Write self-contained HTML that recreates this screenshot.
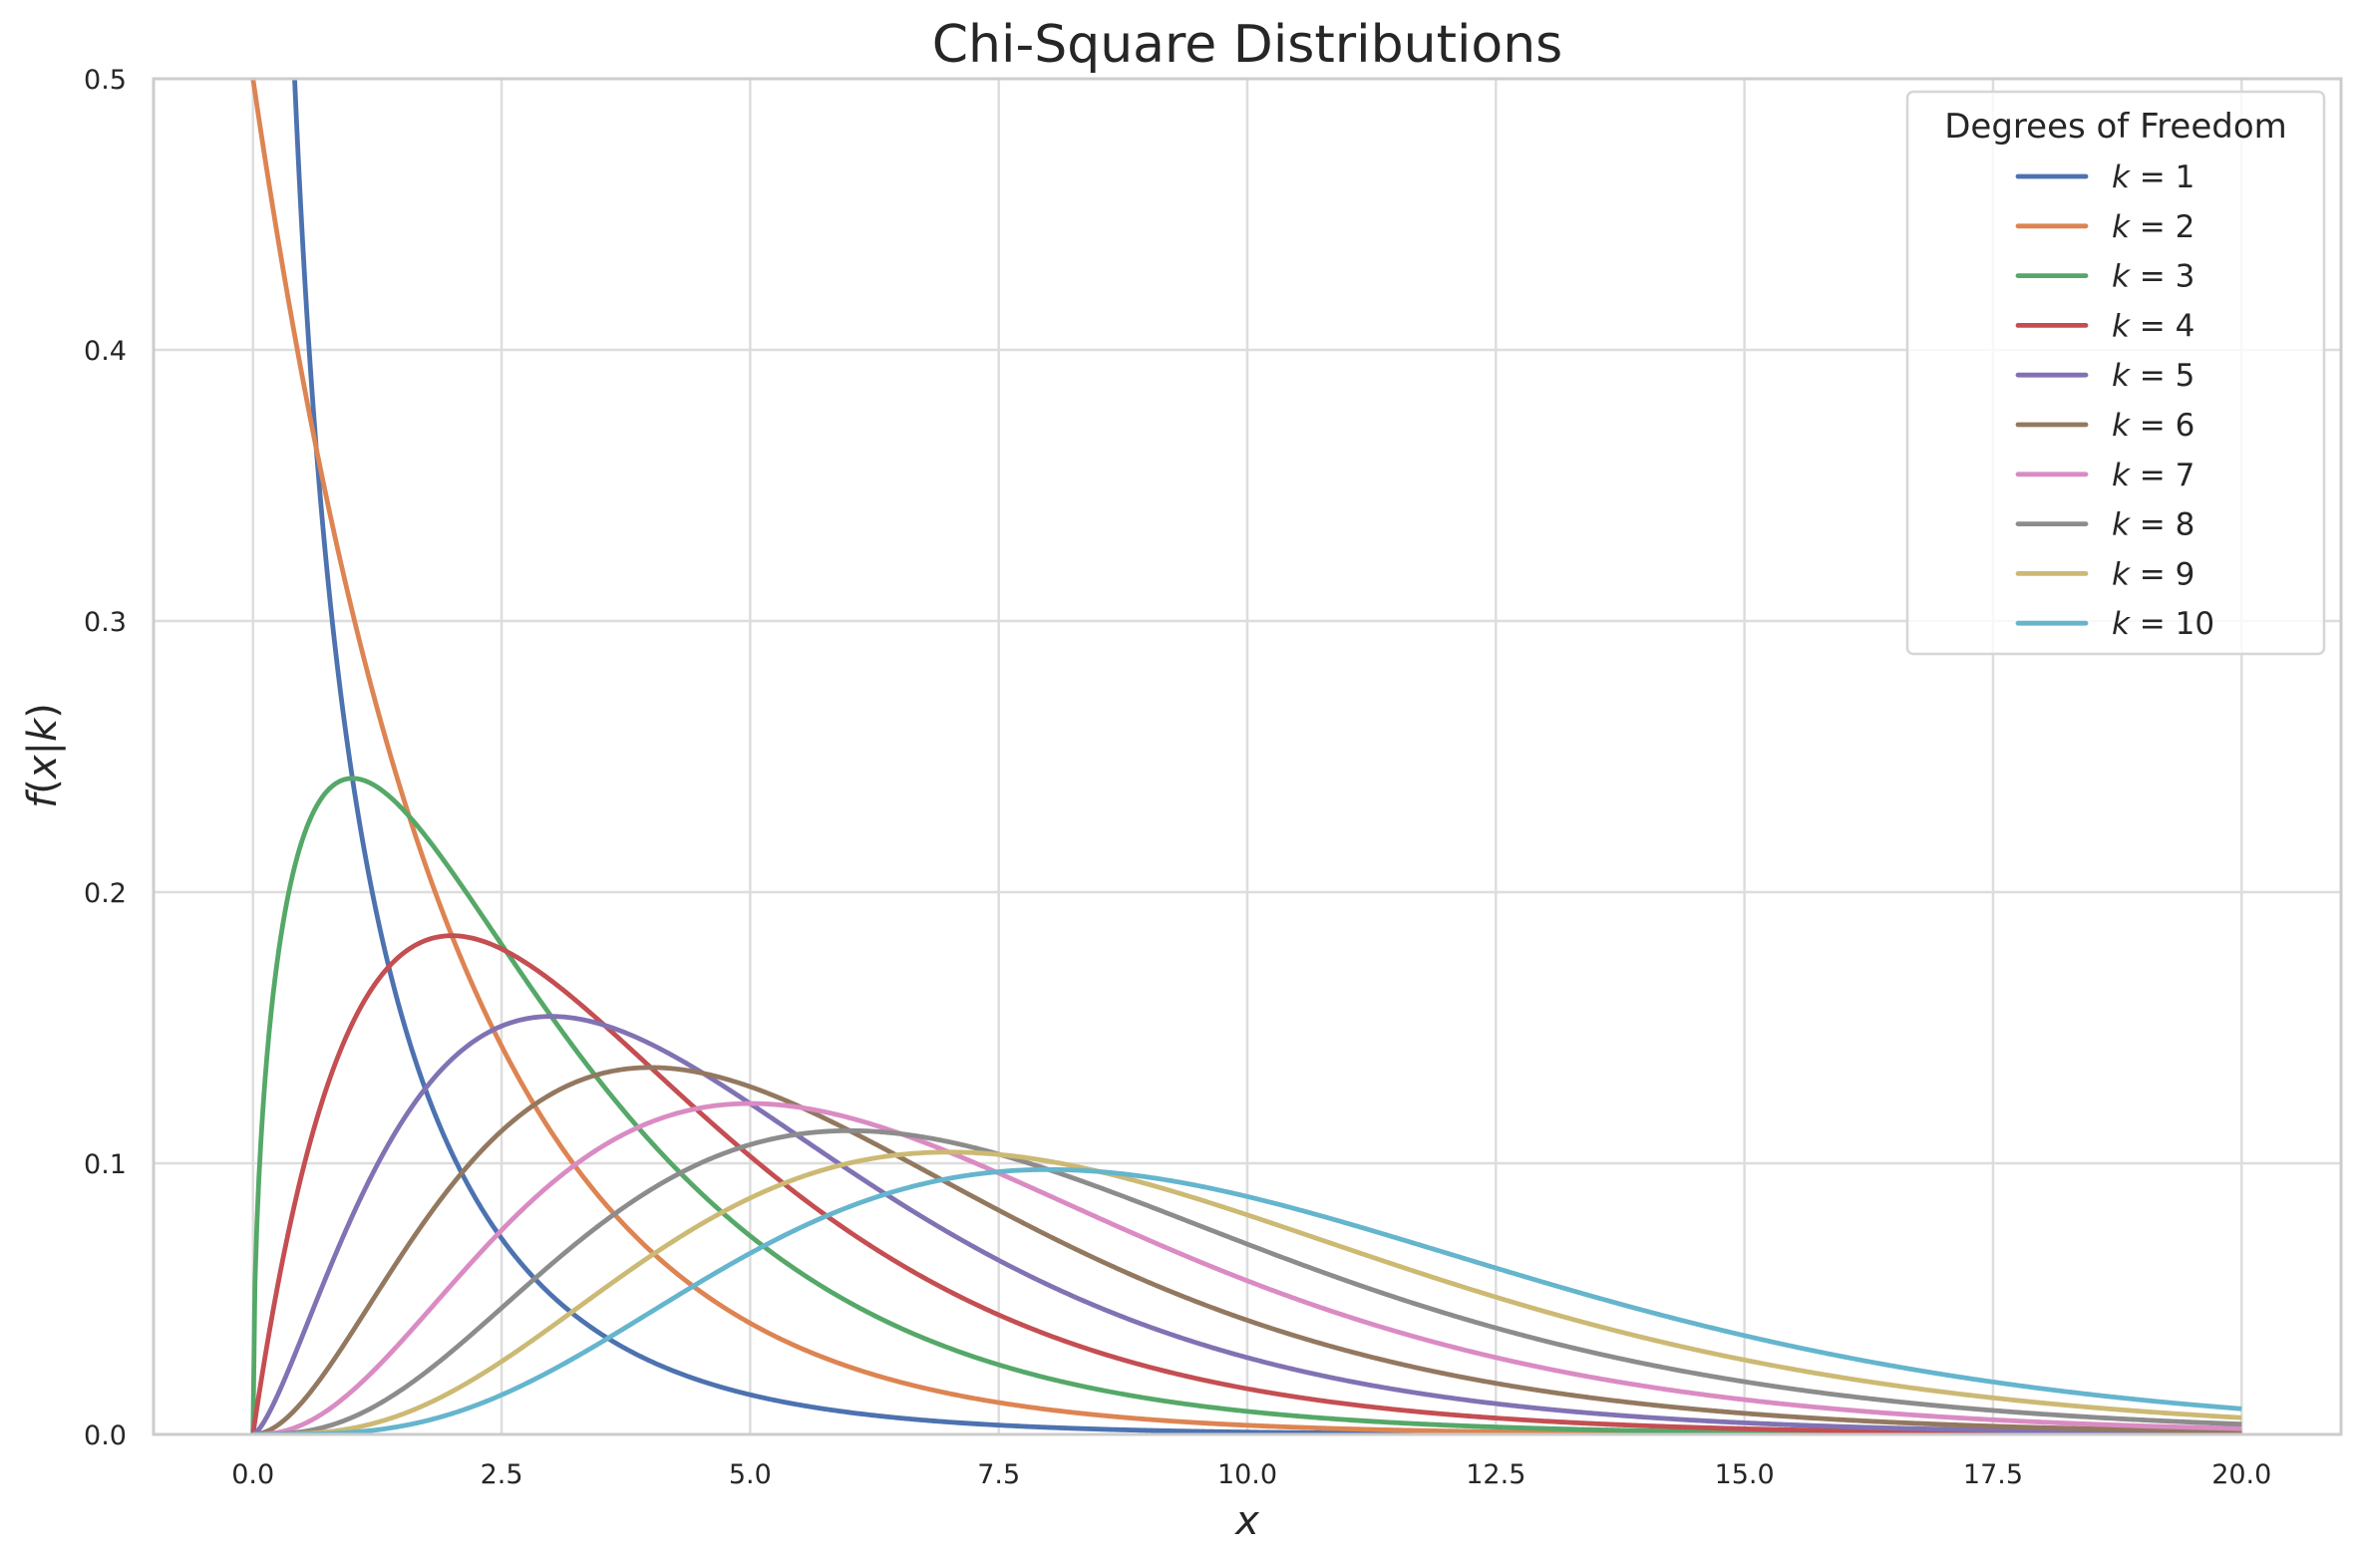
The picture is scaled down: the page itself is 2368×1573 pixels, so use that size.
<!DOCTYPE html>
<html><head><meta charset="utf-8"><style>
html,body{margin:0;padding:0;background:#fff;}
svg text{font-family:"DejaVu Sans","Liberation Sans",sans-serif;fill:#262626;}
</style></head><body>
<svg id="chart" width="2368" height="1568" viewBox="0 0 2368 1568" xmlns="http://www.w3.org/2000/svg">
<defs><clipPath id="plotclip"><rect x="154" y="79" width="2194" height="1360"/></clipPath></defs>
<rect width="2368" height="1568" fill="#fff"/>
<text x="1251" y="62" text-anchor="middle" font-size="52">Chi-Square Distributions</text>
<g id="grid"></g>
<g id="series" clip-path="url(#plotclip)"></g>
<rect x="154" y="79" width="2194" height="1360" fill="none" stroke="#cccccc" stroke-width="3"/>
<g id="ticks"></g>
<text x="1251" y="1539" text-anchor="middle" font-size="40" font-style="italic">x</text>
<text transform="translate(56,758) rotate(-90)" text-anchor="middle" font-size="40"><tspan font-style="italic">f</tspan>(<tspan font-style="italic">x</tspan>|<tspan font-style="italic">k</tspan>)</text>
<g id="legend"></g>
</svg>
<script>
const degrees = [1,2,3,4,5,6,7,8,9,10];
const colors = ["#4c72b0","#dd8452","#55a868","#c44e52","#8172b3","#937860","#da8bc3","#8c8c8c","#ccb974","#64b5cd"];
const xTicks = [0,2.5,5,7.5,10,12.5,15,17.5,20];
const xTickLabels = ["0.0","2.5","5.0","7.5","10.0","12.5","15.0","17.5","20.0"];
const yTicks = [0,0.1,0.2,0.3,0.4,0.5];
const yTickLabels = ["0.0","0.1","0.2","0.3","0.4","0.5"];
const xRange = [0,20];

const NS="http://www.w3.org/2000/svg";
const L=154,R=2348,T=79,B=1439;
const xmin=-1,xmax=21,ymin=0,ymax=0.5;
function sx(v){return L+(v-xmin)/(xmax-xmin)*(R-L);}
function sy(v){return B-(v-ymin)/(ymax-ymin)*(B-T);}
function mk(tag,attrs,parent){const e=document.createElementNS(NS,tag);for(const k in attrs)e.setAttribute(k,attrs[k]);parent.appendChild(e);return e;}
function lgamma(z){const g=7,c=[0.99999999999980993,676.5203681218851,-1259.1392167224028,771.32342877765313,-176.61502916214059,12.507343278686905,-0.13857109526572012,9.9843695780195716e-6,1.5056327351493116e-7];
 if(z<0.5)return Math.log(Math.PI/Math.sin(Math.PI*z))-lgamma(1-z);z-=1;let a=c[0];const t=z+g+0.5;for(let i=1;i<9;i++)a+=c[i]/(z+i);return 0.5*Math.log(2*Math.PI)+(z+0.5)*Math.log(t)-t+Math.log(a);}
function pdf(x,k){if(x<=0)return k===2?0.5:(k>2?0:Infinity);return Math.exp((k/2-1)*Math.log(x)-x/2-(k/2)*Math.log(2)-lgamma(k/2));}

const grid=document.getElementById('grid'),ticks=document.getElementById('ticks');
xTicks.forEach((v,i)=>{
 const g=mk('line',{x1:sx(v),x2:sx(v),y1:T,y2:B,stroke:'#dddddd','stroke-width':2.5},grid);
 
 
 const t=mk('text',{x:sx(v),y:1488,'text-anchor':'middle','font-size':27},ticks);
 
 
 t.textContent=xTickLabels[i];
});
yTicks.forEach((v,i)=>{
 const g=mk('line',{x1:L,x2:R,y1:sy(v),y2:sy(v),stroke:'#dddddd','stroke-width':2.5},grid);
 
 
 const t=mk('text',{x:127,y:sy(v)+10,'text-anchor':'end','font-size':27},ticks);
 
 
 t.textContent=yTickLabels[i];
});
const series=document.getElementById('series');
degrees.forEach((k,i)=>{
 const N=1000;let d='';
 for(let j=0;j<=N;j++){const x=xRange[0]+(xRange[1]-xRange[0])*j/N;let y=pdf(x,k);if(!isFinite(y))continue;y=Math.min(y,0.6);
  d+=(d?'L':'M')+sx(x).toFixed(2)+','+sy(y).toFixed(2);}
 const p=mk('path',{d:d,fill:'none',stroke:colors[i],'stroke-width':4.8,'stroke-linejoin':'round'},series);
 
 
});
const lg=document.getElementById('legend');
const box=mk('rect',{x:1913,y:92,width:418,height:564,rx:6,fill:'#fff','fill-opacity':0.8,stroke:'#d6d6d6','stroke-width':2.5},lg);


const lt=mk('text',{x:2122,y:138,'text-anchor':'middle','font-size':34},lg);


lt.textContent='Degrees of Freedom';
degrees.forEach((k,i)=>{
 const y=177+i*49.8;
 const ln=mk('line',{x1:2024,x2:2092,y1:y,y2:y,stroke:colors[i],'stroke-width':4.8,'stroke-linecap':'round'},lg);
 
 
 const t=mk('text',{x:2118,y:y+11,'font-size':31},lg);
 
 
 t.innerHTML='<tspan font-style="italic">k</tspan> = '+k;
});
</script>
</body></html>
